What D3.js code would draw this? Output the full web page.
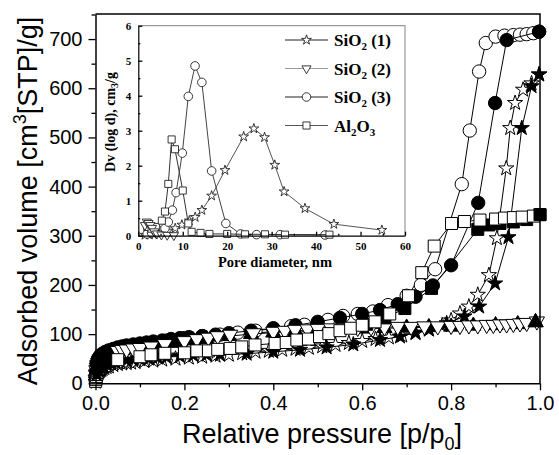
<!DOCTYPE html>
<html><head><meta charset="utf-8">
<script src="https://cdn.jsdelivr.net/npm/d3@7"></script>
<style>body{margin:0;background:#fff}</style>
</head><body><svg id="c" width="559" height="455"></svg>
<script>
// ---------- main chart data ----------
const xTicks = [0, 0.2, 0.4, 0.6, 0.8, 1.0];
const xMinor = [0.1, 0.3, 0.5, 0.7, 0.9];
const yTicks = [0, 100, 200, 300, 400, 500, 600, 700];
const yMinor = [50, 150, 250, 350, 450, 550, 650, 750];

// SiO2 (3) circles
const sio2_3_ads = [[0.0003,6],[0.0008,14],[0.0015,22],[0.002,27],[0.003,32],[0.004,37],[0.005,41],[0.007,46],[0.009,50],[0.012,54],[0.015,57],[0.018,59],[0.022,61],[0.026,63],[0.03,65],[0.035,67],[0.04,68],[0.05,71],[0.06,73],[0.07,75],[0.085,77],[0.1,79],[0.13,83],[0.16,87],[0.2,92],[0.24,96],[0.28,99],[0.32,103],[0.36,107],[0.40,111],[0.44,116],[0.47,119],[0.50,123],[0.523,129],[0.557,137],[0.59,141],[0.624,146],[0.658,159],[0.70,178],[0.732,200],[0.764,232],[0.824,405],[0.842,514],[0.863,634],[0.878,692],[0.90,705],[0.92,707],[0.94,708],[0.955,709],[0.97,710],[0.985,712]];
const sio2_3_des = [[0.998,715],[0.925,698],[0.899,570],[0.861,367],[0.80,240],[0.759,199],[0.72,176],[0.68,161],[0.64,149],[0.60,141],[0.55,133],[0.50,125],[0.45,118],[0.40,112],[0.35,107],[0.30,102],[0.27,99],[0.24,96],[0.21,94],[0.19,92],[0.17,90],[0.15,87],[0.13,85],[0.115,83],[0.10,81],[0.085,79],[0.07,77],[0.06,75],[0.05,73],[0.04,70],[0.03,67],[0.022,64],[0.015,60],[0.01,56],[0.006,50],[0.003,42]];
// SiO2 (1) stars
const sio2_1_ads = [[0.0003,3],[0.001,7],[0.002,11],[0.003,14],[0.004,17],[0.006,20],[0.008,23],[0.01,25],[0.013,27],[0.016,29],[0.02,31],[0.025,33],[0.03,34],[0.04,37],[0.05,39],[0.06,40],[0.07,41],[0.08,42],[0.09,43],[0.11,45],[0.13,46],[0.15,48],[0.18,50],[0.21,52],[0.24,54],[0.27,56],[0.30,58],[0.33,61],[0.36,64],[0.39,66],[0.42,68],[0.45,70],[0.48,72],[0.51,75],[0.54,78],[0.57,82],[0.60,86],[0.63,90],[0.66,93],[0.69,97],[0.72,102],[0.75,109],[0.78,118],[0.80,128],[0.82,142],[0.84,156],[0.86,180],[0.885,220],[0.903,295],[0.924,437],[0.933,519],[0.944,570],[0.962,597],[0.981,610]];
const sio2_1_des = [[0.998,628],[0.981,604],[0.959,519],[0.929,297],[0.899,203],[0.863,156],[0.83,136],[0.79,122],[0.75,110],[0.72,103],[0.685,95],[0.64,88],[0.58,79],[0.52,73],[0.46,68],[0.40,64],[0.34,60],[0.28,58],[0.25,58],[0.22,57],[0.19,55],[0.16,53],[0.14,52],[0.12,50],[0.10,49],[0.085,48],[0.07,47],[0.055,45],[0.045,43],[0.035,41],[0.025,38],[0.018,35],[0.012,31],[0.007,26],[0.003,18]];
// SiO2 (2) triangles
const sio2_2_ads = [[0.0003,8],[0.001,18],[0.002,27],[0.003,32],[0.004,37],[0.006,42],[0.008,46],[0.01,49],[0.013,52],[0.016,55],[0.02,57],[0.025,59],[0.03,61],[0.035,63],[0.04,64],[0.05,66],[0.06,68],[0.07,69],[0.085,71],[0.1,72],[0.125,75],[0.156,80],[0.2,86],[0.228,90],[0.254,93],[0.275,96],[0.303,99],[0.355,102],[0.40,105],[0.426,107],[0.449,109],[0.477,110],[0.50,111],[0.53,112],[0.56,113],[0.59,113],[0.62,114],[0.65,114],[0.68,115],[0.71,115],[0.74,116],[0.77,116],[0.80,117],[0.82,117],[0.84,118],[0.86,118],[0.88,119],[0.895,119],[0.91,120],[0.925,120],[0.94,121],[0.955,122],[0.97,123],[0.993,126]];
const sio2_2_des = [[0.99,124],[0.95,120],[0.90,118],[0.85,117],[0.80,115],[0.75,114],[0.70,113],[0.65,112],[0.60,111],[0.55,110],[0.50,108],[0.45,106],[0.40,103],[0.35,100],[0.30,96],[0.25,90],[0.22,87],[0.19,84],[0.17,82],[0.15,79],[0.135,77],[0.12,75],[0.105,73],[0.09,71],[0.075,69],[0.06,67],[0.05,65],[0.04,63],[0.03,60],[0.022,57],[0.015,53],[0.01,49],[0.006,43],[0.003,33]];
// Al2O3 squares
const al2o3_ads = [[0.0003,4],[0.001,8],[0.002,14],[0.003,18],[0.004,22],[0.006,25],[0.008,28],[0.01,30],[0.015,34],[0.02,36],[0.03,41],[0.04,45],[0.05,48],[0.10,54],[0.125,58],[0.156,61],[0.20,62],[0.228,66],[0.254,66],[0.275,69],[0.303,71],[0.329,74],[0.359,78],[0.404,81],[0.429,83],[0.453,88],[0.479,90],[0.504,95],[0.525,101],[0.55,107],[0.574,112],[0.60,118],[0.629,125],[0.662,141],[0.704,178],[0.734,225],[0.762,279],[0.801,325],[0.83,329],[0.865,332],[0.90,334],[0.92,336],[0.94,337],[0.96,338],[0.985,340]];
const al2o3_des = [[1.0,343],[0.97,333],[0.94,328],[0.91,325],[0.885,322],[0.86,313],[0.756,193],[0.696,152],[0.651,133],[0.61,120]];

// ---------- inset data (pore size distribution) ----------
const inXTicks = [0, 10, 20, 30, 40, 50, 60];
const inXMinor = [5, 15, 25, 35, 45, 55];
const inYTicks = [0, 1, 2, 3, 4, 5, 6];
const inYMinor = [0.5, 1.5, 2.5, 3.5, 4.5, 5.5];
const psd_sio2_1 = [[1.5,0.02],[2.5,0.03],[3.5,0.04],[4.5,0.05],[5.5,0.08],[6.7,0.14],[8.3,0.21],[9.8,0.31],[11.5,0.43],[12.8,0.53],[14.3,0.73],[16.5,1.14],[19.5,1.87],[23.7,2.83],[26.0,3.06],[28.4,2.81],[30.7,2.02],[32.8,1.26],[37.5,0.78],[44,0.33],[54.8,0.16]];
const psd_sio2_2 = [[1.5,0.3],[1.9,0.4],[2.3,0.36],[2.7,0.3],[3.1,0.22],[3.6,0.12],[4.2,0.06],[5.2,0.03],[6.5,0.02],[8,0.01]];
const psd_sio2_3 = [[2,0.05],[3,0.08],[4,0.1],[5,0.14],[6,0.21],[6.75,0.39],[7.65,0.73],[8.5,1.23],[9.9,2.36],[11.25,3.98],[12.76,4.85],[14.3,4.38],[16.5,1.85],[19.7,0.35],[23,0.05],[26.6,0.03],[31.9,0.03],[42,0.02]];
const psd_al2o3 = [[2,0.25],[3,0.2],[4,0.25],[5.3,0.43],[6,0.69],[6.75,1.48],[7.5,2.75],[8.25,2.47],[10,1.29],[11.25,0.35],[12,0.11],[14,0.08],[16,0.05],[20,0.05],[24,0.04],[28.5,0.04],[33,0.03],[43,0.03]];

const legendNames = [["SiO","2"," (1)"],["SiO","2"," (2)"],["SiO","2"," (3)"],["Al","2","O","3"]];

// ---------- drawing ----------
const svg = d3.select('#c');
const X = d3.scaleLinear().domain([0, 1]).range([95.5, 540]);
const Y = d3.scaleLinear().domain([0, 751]).range([383.3, 14]);
const SANS = "'Liberation Sans', Arial, sans-serif";
const SERIF = "'Liberation Serif', 'Times New Roman', serif";
const LOWP = 0.045;   // dense low-pressure adsorption points sit underneath everything

const shapes = {
  circle: {t: d3.symbolCircle, s: 140, r: 0},
  star: {t: d3.symbolStar, s: 72, r: 0},
  down: {t: d3.symbolTriangle, s: 100, r: 180},
  up: {t: d3.symbolTriangle, s: 100, r: 0},
  square: {t: d3.symbolSquare, s: 144, r: 0}
};

const plot = svg.append('g');
const line = d3.line().x(d => X(d[0])).y(d => Y(d[1]));

function drawMarkers(data, shape, filled) {
  const sh = shapes[shape];
  const path = d3.symbol().type(sh.t).size(sh.s)();
  plot.append('g').selectAll('path').data(data).join('path')
    .attr('d', path)
    .attr('transform', d => `translate(${X(d[0])},${Y(d[1])}) rotate(${sh.r})`)
    .attr('fill', filled ? '#000' : '#fff')
    .attr('stroke', '#000').attr('stroke-width', 1);
}
function drawLine(data) {
  plot.append('path').datum(data).attr('d', line)
    .attr('fill', 'none').attr('stroke', '#000').attr('stroke-width', 1);
}
const adsSets = [[sio2_3_ads, 'circle'], [sio2_1_ads, 'star'], [sio2_2_ads, 'down'], [al2o3_ads, 'square']];
// bottom layer: low-pressure adsorption points
adsSets.forEach(([d, s]) => { drawLine(d); drawMarkers(d.filter(p => p[0] < LOWP), s, false); });

function drawSeries(data, shape, filled) {
  if (filled) drawLine(data);
  drawMarkers(filled ? data : data.filter(p => p[0] >= LOWP), shape, filled);
}
drawSeries(sio2_3_ads, 'circle', false);
drawSeries(sio2_3_des, 'circle', true);
drawSeries(sio2_1_ads, 'star', false);
drawSeries(sio2_1_des, 'star', true);
drawSeries(sio2_2_des, 'up', true);
drawSeries(sio2_2_ads, 'down', false);
drawSeries(al2o3_des, 'square', true);
drawSeries(al2o3_ads, 'square', false);
// end points of desorption branches on top
drawMarkers([sio2_3_des[0]], 'circle', true);
drawMarkers([sio2_1_des[0]], 'star', true);
drawMarkers([al2o3_des[0]], 'square', true);
drawMarkers([sio2_2_des[0]], 'up', true);

// frame
svg.append('path')
  .attr('d', `M${X(0)},${Y(751)}H${X(1)}V${Y(0)}`)
  .attr('fill', 'none').attr('stroke', '#000').attr('stroke-width', 1.5);

// axes
function styleAxis(g, fs, font, weight) {
  g.selectAll('text').attr('font-size', fs).attr('font-family', font).attr('font-weight', weight || 'normal').attr('fill', '#000');
  g.selectAll('line').attr('stroke', '#000').attr('stroke-width', 1.3);
}
const gx = svg.append('g').attr('transform', `translate(0,${Y(0)})`)
  .call(d3.axisBottom(X).tickValues(xTicks).tickFormat(d3.format('.1f')).tickSize(7).tickSizeOuter(0).tickPadding(6));
gx.select('.domain').attr('stroke', '#000').attr('stroke-width', 1.5);
styleAxis(gx, 20, SANS);
const gxm = svg.append('g').attr('transform', `translate(0,${Y(0)})`)
  .call(d3.axisBottom(X).tickValues(xMinor).tickFormat('').tickSize(4).tickSizeOuter(0));
gxm.select('.domain').remove(); styleAxis(gxm, 20, SANS);

const gy = svg.append('g').attr('transform', `translate(${X(0)},0)`)
  .call(d3.axisLeft(Y).tickValues(yTicks).tickSize(7).tickSizeOuter(0).tickPadding(6));
gy.select('.domain').attr('stroke', '#000').attr('stroke-width', 1.5);
styleAxis(gy, 20, SANS);
const gym = svg.append('g').attr('transform', `translate(${X(0)},0)`)
  .call(d3.axisLeft(Y).tickValues(yMinor).tickFormat('').tickSize(4).tickSizeOuter(0));
gym.select('.domain').remove(); styleAxis(gym, 20, SANS);

// axis titles
const xt = svg.append('text').attr('x', 322).attr('y', 443).attr('text-anchor', 'middle')
  .attr('font-family', SANS).attr('font-size', 27).attr('fill', '#000');
xt.append('tspan').text('Relative pressure [p/p');
xt.append('tspan').attr('font-size', 18).attr('dy', 7).text('0');
xt.append('tspan').attr('dy', -7).text(']');

const yt = svg.append('text').attr('transform', 'translate(37,201) rotate(-90)').attr('text-anchor', 'middle')
  .attr('font-family', SANS).attr('font-size', 27).attr('fill', '#000');
yt.append('tspan').text('Adsorbed volume [cm');
yt.append('tspan').attr('font-size', 18).attr('dy', -11).text('3');
yt.append('tspan').attr('dy', 11).text('[STP]/g]');

// ---------- inset ----------
const XI = d3.scaleLinear().domain([0, 60]).range([138.3, 405]);
const YI = d3.scaleLinear().domain([0, 6]).range([235.7, 25.7]);
const inset = svg.append('g');
inset.append('rect').attr('x', XI(0)).attr('y', YI(6)).attr('width', XI(60) - XI(0)).attr('height', YI(0) - YI(6))
  .attr('fill', '#fff');
inset.append('path').attr('d', `M${XI(0)},${YI(6)}H${XI(60)}V${YI(0)}`)
  .attr('fill', 'none').attr('stroke', '#999').attr('stroke-width', 1.2);

const lineI = d3.line().x(d => XI(d[0])).y(d => YI(d[1]));
const ishapes = {
  star: {t: d3.symbolStar, s: 30, r: 0},
  down: {t: d3.symbolTriangle, s: 36, r: 180},
  circle: {t: d3.symbolCircle, s: 58, r: 0},
  square: {t: d3.symbolSquare, s: 50, r: 0}
};
function drawPsd(data, shape, col) {
  inset.append('path').datum(data).attr('d', lineI).attr('fill', 'none').attr('stroke', col).attr('stroke-width', 1);
  const sh = ishapes[shape];
  const p = d3.symbol().type(sh.t).size(sh.s)();
  inset.append('g').selectAll('path').data(data).join('path').attr('d', p)
    .attr('transform', d => `translate(${XI(d[0])},${YI(d[1])}) rotate(${sh.r})`)
    .attr('fill', '#fff').attr('stroke', '#222').attr('stroke-width', 0.9);
}
drawPsd(psd_sio2_1, 'star', '#555');
drawPsd(psd_sio2_3, 'circle', '#444');
drawPsd(psd_al2o3, 'square', '#333');
drawPsd(psd_sio2_2, 'down', '#777');

const gxi = inset.append('g').attr('transform', `translate(0,${YI(0)})`)
  .call(d3.axisBottom(XI).tickValues(inXTicks).tickFormat(d3.format('d')).tickSize(-4).tickSizeOuter(0).tickPadding(7));
gxi.select('.domain').attr('stroke', '#000').attr('stroke-width', 1.2);
styleAxis(gxi, 11, SERIF, 'bold');
const gxim = inset.append('g').attr('transform', `translate(0,${YI(0)})`)
  .call(d3.axisBottom(XI).tickValues(inXMinor).tickFormat('').tickSize(-2).tickSizeOuter(0));
gxim.select('.domain').remove(); styleAxis(gxim, 11, SERIF);

const gyi = inset.append('g').attr('transform', `translate(${XI(0)},0)`)
  .call(d3.axisLeft(YI).tickValues(inYTicks).tickFormat(d3.format('d')).tickSize(-4).tickSizeOuter(0).tickPadding(7));
gyi.select('.domain').attr('stroke', '#000').attr('stroke-width', 1.2);
styleAxis(gyi, 11, SERIF, 'bold');
const gyim = inset.append('g').attr('transform', `translate(${XI(0)},0)`)
  .call(d3.axisLeft(YI).tickValues(inYMinor).tickFormat('').tickSize(-2).tickSizeOuter(0));
gyim.select('.domain').remove(); styleAxis(gyim, 11, SERIF);

inset.append('text').attr('x', 275).attr('y', 267).attr('text-anchor', 'middle')
  .attr('font-family', SERIF).attr('font-weight', 'bold').attr('font-size', 14.5).attr('fill', '#000')
  .text('Pore diameter, nm');
const iyt = inset.append('text').attr('transform', 'translate(115,122) rotate(-90)').attr('text-anchor', 'middle')
  .attr('font-family', SERIF).attr('font-weight', 'bold').attr('font-size', 14).attr('fill', '#000');
iyt.append('tspan').text('Dv (log d), cm');
iyt.append('tspan').attr('font-size', 10).attr('dy', 3).text('3');
iyt.append('tspan').attr('dy', -3).text('/g');

// legend
const legShapes = ['star', 'down', 'circle', 'square'];
const legCols = ['#222', '#999', '#222', '#555'];
legendNames.forEach((nm, i) => {
  const yy = 40 + i * 28.5;
  inset.append('line').attr('x1', 285).attr('x2', 328).attr('y1', yy).attr('y2', yy)
    .attr('stroke', legCols[i]).attr('stroke-width', 1);
  const sh = ishapes[legShapes[i]];
  inset.append('path').attr('d', d3.symbol().type(sh.t).size(sh.s)())
    .attr('transform', `translate(306.5,${yy}) rotate(${sh.r})`)
    .attr('fill', '#fff').attr('stroke', '#222').attr('stroke-width', 0.9);
  const t = inset.append('text').attr('x', 334).attr('y', yy + 6)
    .attr('font-family', SERIF).attr('font-weight', 'bold').attr('font-size', 17).attr('fill', '#000');
  nm.forEach((s, k) => {
    const isSub = (s === '2' || s === '3');
    t.append('tspan').attr('font-size', isSub ? 11 : 17).attr('dy', isSub ? 4 : (k > 0 ? -4 : 0)).text(s);
  });
});
</script></body></html>
